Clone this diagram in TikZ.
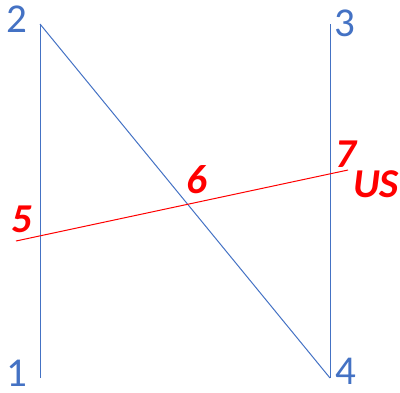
\documentclass[tikz,border=0pt]{standalone}
\usepackage{fontspec}
\setmainfont{Carlito}
\begin{document}
\begin{tikzpicture}[x=0.5pt, y=-0.5pt]
\tikzset{
    azul/.style={-, line width=0.5pt, draw={rgb,255:red,68;green,114;blue,196}},
    vermelho/.style={-, line width=0.5pt, draw=red},
    rotulo/.style={inner sep=0pt, anchor=base, font=\fontsize{20.5}{21}\selectfont,
                   text={rgb,255:red,68;green,114;blue,196}},
    marca/.style={inner sep=0pt, anchor=base, font=\fontsize{20.5}{21}\selectfont\bfseries\itshape,
                  text=red}
}
\useasboundingbox (0,0) rectangle (400,392);
\coordinate (p1) at (40,378);
\coordinate (p2) at (40,24);
\coordinate (p3) at (330,24);
\coordinate (p4) at (330,378);
\coordinate (q5) at (16,241);
\coordinate (q7) at (348,170);
\draw[azul] (p1) -- (p2);
\draw[azul] (p3) -- (p4);
\draw[azul] (p2) -- (p4);
\draw[vermelho] (q5) -- (q7);
\node[rotulo] (n1) at (17,386) {1};
\node[rotulo] (n2) at (17,32)  {2};
\node[rotulo] (n3) at (345,36) {3};
\node[rotulo] (n4) at (346,384) {4};
\node[marca]  (m5) at (22,232)  {5};
\node[marca]  (m6) at (197,193) {6};
\node[marca]  (m7) at (346,167) {7};
\node[marca]  (us) at (376,197) {US};
\end{tikzpicture}
\end{document}
